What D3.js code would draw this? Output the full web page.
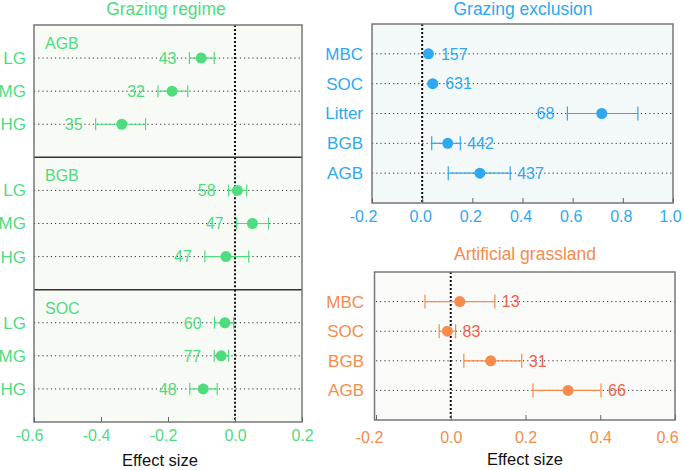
<!DOCTYPE html>
<html>
<head>
<meta charset="utf-8">
<script src="https://cdn.jsdelivr.net/npm/d3@7"></script>
<style>
  body { margin: 0; background: #fff; }
  svg { display: block; font-family: "Liberation Sans", Arial, sans-serif; }
</style>
</head>
<body>
<svg id="chart" width="685" height="470"></svg>
<script>
// Grazing regime (three stacked sub-panels)
const regimeLevels = ['LG', 'MG', 'HG'];
const regimeVars = ['AGB', 'BGB', 'SOC'];
const regimeMean = [[-0.101, -0.188, -0.338], [0.007, 0.052, -0.027], [-0.030, -0.041, -0.095]];
const regimeLow  = [[-0.136, -0.230, -0.416], [-0.019, 0.005, -0.090], [-0.061, -0.062, -0.135]];
const regimeHigh = [[-0.062, -0.141, -0.267], [0.035, 0.100, 0.041], [-0.004, -0.019, -0.053]];
const regimeN    = [[43, 32, 35], [58, 47, 47], [60, 77, 48]];
const regimeTicks = [-0.6, -0.4, -0.2, 0.0, 0.2];

// Grazing exclusion
const exclusionVars = ['MBC', 'SOC', 'Litter', 'BGB', 'AGB'];
const exclusionMean = [0.025, 0.042, 0.716, 0.102, 0.230];
const exclusionLow  = [0.019, 0.035, 0.579, 0.038, 0.104];
const exclusionHigh = [0.031, 0.050, 0.860, 0.152, 0.351];
const exclusionN    = [157, 631, 68, 442, 437];
const exclusionTicks = [-0.2, 0.0, 0.2, 0.4, 0.6, 0.8, 1.0];

// Artificial grassland
const artificialVars = ['MBC', 'SOC', 'BGB', 'AGB'];
const artificialMean = [0.024, -0.009, 0.107, 0.314];
const artificialLow  = [-0.069, -0.031, 0.035, 0.220];
const artificialHigh = [0.118, 0.013, 0.190, 0.402];
const artificialN    = [13, 83, 31, 66];
const artificialTicks = [-0.2, 0.0, 0.2, 0.4, 0.6];

const svg = d3.select('#chart');
const fmt = d => d.toFixed(1);
const R = 5.5;

// draws rows of points + CIs inside a frame
function drawRows(g, x, y, cats, mean, low, high, n, opt) {
    const right = x.range()[1];
    cats.forEach((c, i) => {
        const cy = y(c);
        g.append('line')
            .attr('x1', x.range()[0]).attr('x2', right)
            .attr('y1', cy).attr('y2', cy)
            .attr('stroke', '#333').attr('stroke-width', 1)
            .attr('stroke-dasharray', '1.2,3');
    });
    // zero line
    g.append('line')
        .attr('x1', x(0)).attr('x2', x(0))
        .attr('y1', opt.top).attr('y2', opt.bottom)
        .attr('stroke', '#111').attr('stroke-width', 2)
        .attr('stroke-dasharray', '2,2');
    cats.forEach((c, i) => {
        const cy = y(c);
        // whiskers only when the interval is wider than the marker
        if (x(high[i]) - x(low[i]) > 2 * R) {
            g.append('line')
                .attr('x1', x(low[i])).attr('x2', x(high[i]))
                .attr('y1', cy).attr('y2', cy)
                .attr('stroke', opt.color).attr('stroke-width', 1.2);
            [low[i], high[i]].forEach(v => {
                g.append('line')
                    .attr('x1', x(v)).attr('x2', x(v))
                    .attr('y1', cy - opt.cap).attr('y2', cy + opt.cap)
                    .attr('stroke', opt.color).attr('stroke-width', 1.2);
            });
        }
        g.append('circle')
            .attr('cx', x(mean[i])).attr('cy', cy).attr('r', R)
            .attr('fill', opt.color);
        const rightEdge = Math.max(x(high[i]), x(mean[i]) + R);
        const leftEdge = Math.min(x(low[i]), x(mean[i]) - R);
        const onLeft = opt.side === 'left' || rightEdge + 40 > right;
        g.append('text')
            .attr('x', onLeft ? leftEdge - 13 : rightEdge + 7)
            .attr('y', cy).attr('dy', '0.36em')
            .attr('text-anchor', onLeft ? 'end' : 'start')
            .attr('font-size', 16)
            .attr('fill', opt.numColor)
            .text(n[i]);
    });
}

function styleAxis(a, color, size, shift) {
    a.select('.domain').remove();
    a.selectAll('line').attr('stroke', '#666');
    a.selectAll('text').attr('fill', color).attr('font-size', size)
        .attr('font-family', '"Liberation Sans", Arial, sans-serif');
    if (shift) a.selectAll('.tick text').attr('dx', shift);
}

// ---------- Grazing regime ----------
const green = '#4fdc7e';
const L = { left: 34, right: 302, top: 25, bottom: 422 };
const xL = d3.scaleLinear().domain([-0.6, 0.2]).range([L.left, L.right]);
const gL = svg.append('g');
gL.append('rect').attr('x', L.left).attr('y', L.top)
    .attr('width', L.right - L.left).attr('height', L.bottom - L.top)
    .attr('fill', '#f8faf6');
const H = (L.bottom - L.top) / 3;
regimeVars.forEach((v, k) => {
    const t = L.top + k * H;
    const yk = d3.scalePoint().domain(regimeLevels).range([t, t + H]).padding(1);
    drawRows(gL, xL, yk, regimeLevels, regimeMean[k], regimeLow[k], regimeHigh[k], regimeN[k],
        { color: green, numColor: green, cap: 6, side: 'left', top: t, bottom: t + H });
    gL.append('text').attr('x', L.left + 11).attr('y', t + 24)
        .attr('font-size', 16).attr('fill', green).text(v);
    const ya = gL.append('g').attr('transform', `translate(${L.left},0)`)
        .call(d3.axisLeft(yk).tickSize(0).tickPadding(8));
    styleAxis(ya, green, 17);
    if (k > 0) {
        gL.append('line').attr('x1', L.left).attr('x2', L.right)
            .attr('y1', t).attr('y2', t)
            .attr('stroke', '#333').attr('stroke-width', 1.5);
    }
});
gL.append('rect').attr('x', L.left).attr('y', L.top)
    .attr('width', L.right - L.left).attr('height', L.bottom - L.top)
    .attr('fill', 'none').attr('stroke', '#777').attr('stroke-width', 1.5);
const xaL = gL.append('g').attr('transform', `translate(0,${L.bottom})`)
    .call(d3.axisBottom(xL).tickValues(regimeTicks).tickFormat(fmt).tickSize(-5).tickPadding(8));
styleAxis(xaL, green, 16, d => d < 0 ? -5 : 0);
gL.append('text').attr('x', (L.left + L.right) / 2 - 8).attr('y', 466)
    .attr('text-anchor', 'middle').attr('font-size', 16.5).attr('fill', '#111').text('Effect size');
gL.append('text').attr('x', 166).attr('y', 15)
    .attr('text-anchor', 'middle').attr('font-size', 17.5).attr('fill', green).text('Grazing regime');

// ---------- Grazing exclusion ----------
const blue = '#2ea8f2';
const E = { left: 372, right: 673, top: 24, bottom: 203 };
const xE = d3.scaleLinear().domain([-0.2, 1.0]).range([E.left, E.right]);
const yE = d3.scalePoint().domain(exclusionVars).range([E.top, E.bottom]).padding(1);
const gE = svg.append('g');
gE.append('rect').attr('x', E.left).attr('y', E.top)
    .attr('width', E.right - E.left).attr('height', E.bottom - E.top)
    .attr('fill', '#f3f8f8');
drawRows(gE, xE, yE, exclusionVars, exclusionMean, exclusionLow, exclusionHigh, exclusionN,
    { color: blue, numColor: blue, cap: 7, side: 'auto', top: E.top, bottom: E.bottom });
gE.append('rect').attr('x', E.left).attr('y', E.top)
    .attr('width', E.right - E.left).attr('height', E.bottom - E.top)
    .attr('fill', 'none').attr('stroke', '#777').attr('stroke-width', 1.5);
const yaE = gE.append('g').attr('transform', `translate(${E.left},0)`)
    .call(d3.axisLeft(yE).tickSize(0).tickPadding(9));
styleAxis(yaE, blue, 17);
const xaE = gE.append('g').attr('transform', `translate(0,${E.bottom})`)
    .call(d3.axisBottom(xE).tickValues(exclusionTicks).tickFormat(fmt).tickSize(-5).tickPadding(8));
styleAxis(xaE, blue, 16, d => d < 0 ? -9 : (d >= 1 ? -3 : -2));
gE.append('text').attr('x', 523).attr('y', 15)
    .attr('text-anchor', 'middle').attr('font-size', 17.5).attr('fill', blue).text('Grazing exclusion');

// ---------- Artificial grassland ----------
const orange = '#f68b4c';
const red = '#f0604a';
const A = { left: 376, right: 675, top: 272, bottom: 420 };
const xA = d3.scaleLinear().domain([-0.2, 0.6]).range([A.left, A.right]);
const yA = d3.scalePoint().domain(artificialVars).range([A.top, A.bottom]).padding(1);
const gA = svg.append('g');
gA.append('rect').attr('x', A.left - 1.5).attr('y', A.top)
    .attr('width', A.right - A.left + 1.5).attr('height', A.bottom - A.top)
    .attr('fill', '#fafaf8');
drawRows(gA, xA, yA, artificialVars, artificialMean, artificialLow, artificialHigh, artificialN,
    { color: orange, numColor: red, cap: 7, side: 'auto', top: A.top, bottom: A.bottom });
gA.append('rect').attr('x', A.left - 1.5).attr('y', A.top)
    .attr('width', A.right - A.left + 1.5).attr('height', A.bottom - A.top)
    .attr('fill', 'none').attr('stroke', '#777').attr('stroke-width', 1.5);
const yaA = gA.append('g').attr('transform', `translate(${A.left},0)`)
    .call(d3.axisLeft(yA).tickSize(0).tickPadding(12));
styleAxis(yaA, orange, 17);
const xaA = gA.append('g').attr('transform', `translate(0,${A.bottom})`)
    .call(d3.axisBottom(xA).tickValues(artificialTicks).tickFormat(fmt).tickSize(-5).tickPadding(12));
styleAxis(xaA, orange, 16, d => d < 0 ? -7 : (d > 0.5 ? -8 : 0));
gA.append('text').attr('x', 525).attr('y', 465)
    .attr('text-anchor', 'middle').attr('font-size', 16.5).attr('fill', '#111').text('Effect size');
gA.append('text').attr('x', 525).attr('y', 260)
    .attr('text-anchor', 'middle').attr('font-size', 17.5).attr('fill', orange).text('Artificial grassland');
</script>
</body>
</html>
